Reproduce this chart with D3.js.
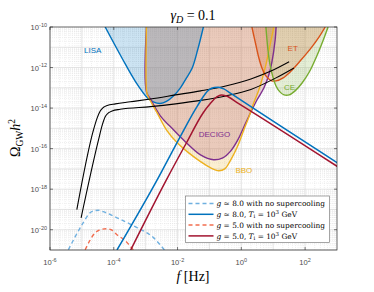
<!DOCTYPE html>
<html>
<head>
<meta charset="utf-8">
<script src="https://cdn.jsdelivr.net/npm/d3@7"></script>
<style>
  body { margin: 0; background: #fff; }
  svg { display: block; }
  .tick-label { font-family: "Liberation Sans", Arial, sans-serif; font-size: 7.6px; fill: #4d4d4d; }
  .det-label { font-family: "Liberation Sans", Arial, sans-serif; font-size: 8px; }
  .legend-text { font-family: "DejaVu Serif", serif; font-size: 7.4px; fill: #000; }
</style>
</head>
<body>
<div id="chart"></div>
<script>
// all values are [log10 f, log10 Omega h^2]
var lisa = [[-4.27,-10],[-3.74,-11.54],[-3.32,-12.69],[-2.94,-13.5],[-2.76,-13.69],[-2.54,-13.77],
  [-2.35,-13.67],[-2.13,-13.4],[-1.91,-13.0],[-1.72,-12.51],[-1.54,-12.02],[-1.37,-11.13],[-1.19,-10]];
var bbo = [[-2.976,-10],[-2.976,-13.1],[-2.945,-13.35],[-2.85,-13.65],[-2.64,-14.24],[-2.35,-15.07],
  [-2.01,-15.71],[-1.65,-16.21],[-1.28,-16.64],[-0.96,-16.95],[-0.71,-17.09],[-0.52,-17.0],[-0.33,-16.55],
  [-0.11,-15.86],[0.08,-15.07],[0.24,-14.43],[0.39,-13.74],[0.55,-13.1],[0.77,-11.87],[0.9,-10.89],[1.02,-10]];
var decigo = [[-2.976,-10],[-2.976,-13.2],[-2.85,-13.55],[-2.54,-14.38],[-2.13,-15.07],[-1.75,-15.67],
  [-1.28,-16.31],[-0.87,-16.55],[-0.58,-16.45],[-0.33,-16.11],[-0.11,-15.57],[0.08,-14.93],[0.3,-14.19],
  [0.49,-13.6],[0.71,-13.0],[0.87,-12.32],[0.96,-11.72],[1.06,-10.64],[1.09,-10]];
var et = [[0.331,-10],[0.457,-10.89],[0.55,-11.53],[0.646,-12.02],[0.77,-12.41],[0.93,-12.64],[1.087,-12.66],
  [1.31,-12.51],[1.56,-12.17],[1.87,-11.63],[2.19,-11.03],[2.44,-10.49],[2.63,-10]];
var ce = [[0.77,-10],[0.835,-11.13],[0.9,-11.87],[0.99,-12.46],[1.087,-12.91],[1.21,-13.2],[1.34,-13.35],
  [1.5,-13.35],[1.685,-13.15],[1.905,-12.76],[2.13,-12.22],[2.38,-11.38],[2.57,-10.64],[2.72,-10]];

var pisUpper = [[-5.159,-19.01],[-4.636,-15.07],[-4.52,-14.48],[-4.425,-14.14],[-4.33,-13.97],[-4.205,-13.87],
  [-3.95,-13.79],[-3.48,-13.69],[-2.85,-13.55],[-2.06,-13.35],[-1.276,-13.15],[-0.49,-12.91],[0.3,-12.56],
  [0.93,-12.17],[1.5,-11.71]];
var pisLower = [[-5.024,-19.41],[-4.479,-15.57],[-4.36,-14.83],[-4.27,-14.43],[-4.17,-14.24],[-4.05,-14.14],
  [-3.8,-14.06],[-2.85,-13.93],[-2.06,-13.79],[-1.276,-13.62],[-0.49,-13.4],[0.3,-13.08],[1.087,-12.51],[1.65,-12.02]];

var g8NoSc = [[-5.424,-20.99],[-4.96,-19.66],[-4.74,-19.16],[-4.614,-19.06],[-4.479,-19.04],[-4.33,-19.11],
  [-3.9,-19.41],[-3.27,-19.9],[-2.756,-20.39],[-2.41,-21]];
var g8Ti = [[-3.9,-21],[-2.64,-17.54],[-1.906,-15.38],[-1.38,-13.9],[-1.02,-13.1],[-0.85,-12.98],[-0.72,-12.97],
  [-0.55,-13.05],[-0.33,-13.28],[3.03,-16.72]];
var g5NoSc = [[-4.898,-20.99],[-4.583,-20.15],[-4.425,-20.0],[-4.24,-19.95],[-4.08,-20.0],[-3.9,-20.25],
  [-3.64,-20.54],[-3.39,-21]];
var g5Ti = [[-3.47,-21],[-2.35,-17.54],[-1.72,-15.71],[-1.2,-14.24],[-0.98,-13.79],[-0.77,-13.45],[-0.63,-13.35],
  [-0.47,-13.4],[-0.12,-13.74],[3.03,-16.9]];

var xTicks = [-6, -4, -2, 0, 2];
var yTicks = [-20, -18, -16, -14, -12, -10];

var W = 374, H = 292;
var margin = {top: 27, right: 37, bottom: 42, left: 50};
var width = W - margin.left - margin.right,
    height = H - margin.top - margin.bottom;

var svg = d3.select("#chart").append("svg").attr("width", W).attr("height", H);
var g = svg.append("g").attr("transform", "translate(" + margin.left + "," + margin.top + ")");

var x = d3.scaleLog().domain([1e-6, 1e3]).range([0, width]);
var y = d3.scaleLog().domain([1e-21, 1e-10]).range([height, 0]);
var p10 = function(v) { return Math.pow(10, v); };

var line = d3.line()
    .x(function(d) { return x(p10(d[0])); })
    .y(function(d) { return y(p10(d[1])); })
    .curve(d3.curveMonotoneX);
var lineC = d3.line()
    .x(function(d) { return x(p10(d[0])); })
    .y(function(d) { return y(p10(d[1])); })
    .curve(d3.curveCatmullRom.alpha(0.5));

g.append("defs").append("clipPath").attr("id", "clip")
  .append("rect").attr("width", width).attr("height", height);

// grid
var grid = g.append("g");
for (var e = -6; e < 3; e++) {
  for (var k = 1; k < 10; k++) {
    var xv = x(k * p10(e));
    grid.append("line").attr("x1", xv).attr("x2", xv).attr("y1", 0).attr("y2", height)
      .attr("stroke", k == 1 ? "#d4d4d4" : "#dedede")
      .attr("stroke-width", k == 1 ? 0.6 : 0.5)
      .attr("stroke-dasharray", k == 1 ? null : "1,1");
  }
}
for (var e2 = -21; e2 < -10; e2++) {
  for (var k2 = 1; k2 < 10; k2++) {
    var yv = y(k2 * p10(e2));
    grid.append("line").attr("y1", yv).attr("y2", yv).attr("x1", 0).attr("x2", width)
      .attr("stroke", k2 == 1 ? "#d4d4d4" : "#dedede")
      .attr("stroke-width", k2 == 1 ? 0.6 : 0.5)
      .attr("stroke-dasharray", k2 == 1 ? null : "1,1");
  }
}

var plot = g.append("g").attr("clip-path", "url(#clip)");

// detector regions (filled up to the top)
function region(data, fill, op) {
  plot.append("path").datum(data).attr("d", lineC(data) + "Z")
    .attr("fill", fill).attr("fill-opacity", op).attr("stroke", "none");
}
region(bbo, "#EDB120", 0.2);
region(decigo, "rgb(190,105,125)", 0.27);
region(lisa, "#0072BD", 0.2);
region(ce, "#77AC30", 0.2);
region(et, "#D95319", 0.2);

function curve(data, color, w, dash, gen) {
  plot.append("path").datum(data).attr("d", (gen || line)(data))
    .attr("fill", "none").attr("stroke", color).attr("stroke-width", w)
    .attr("stroke-dasharray", dash || null);
}
curve(lisa, "#0072BD", 1.4, null, lineC);
curve(decigo, "#7E2F8E", 1.4, null, lineC);
curve(bbo, "#EDB120", 1.4, null, lineC);
curve(et, "#D95319", 1.4, null, lineC);
curve(ce, "#77AC30", 1.4, null, lineC);

curve(pisUpper, "#000", 1.1);
curve(pisLower, "#000", 1.1);

curve(g8NoSc, "#6fb0e0", 1.4, "4,3");
curve(g5NoSc, "#f26d4f", 1.4, "4,3");
curve(g8Ti, "#0072BD", 1.5);
curve(g5Ti, "#A2142F", 1.5);

// detector labels
var labels = [["LISA", -4.66, -11.3, "#0072BD"], ["DECIGO", -0.84, -15.42, "#7E2F8E"],
  ["BBO", 0.08, -17.2, "#EDB120"], ["ET", 1.61, -11.19, "#D95319"], ["CE", 1.51, -13.1, "#77AC30"]];
labels.forEach(function(l) {
  g.append("text").attr("class", "det-label").attr("x", x(p10(l[1]))).attr("y", y(p10(l[2])))
    .attr("text-anchor", "middle").attr("fill", l[3]).text(l[0]);
});

// box and ticks
g.append("rect").attr("width", width).attr("height", height)
  .attr("fill", "none").attr("stroke", "#262626").attr("stroke-width", 0.7);
xTicks.forEach(function(t) {
  var xv = x(p10(t));
  g.append("line").attr("x1", xv).attr("x2", xv).attr("y1", height).attr("y2", height - 3).attr("stroke", "#262626").attr("stroke-width", 0.6);
  g.append("line").attr("x1", xv).attr("x2", xv).attr("y1", 0).attr("y2", 3).attr("stroke", "#262626").attr("stroke-width", 0.6);
  var tx = g.append("text").attr("class", "tick-label").attr("x", xv).attr("y", height + 15)
    .attr("text-anchor", "middle").text("10");
  tx.append("tspan").attr("dy", -3.2).style("font-size", "5.5px").text(t);
});
yTicks.forEach(function(t) {
  var yv = y(p10(t));
  g.append("line").attr("y1", yv).attr("y2", yv).attr("x1", 0).attr("x2", 3).attr("stroke", "#262626").attr("stroke-width", 0.6);
  g.append("line").attr("y1", yv).attr("y2", yv).attr("x1", width).attr("x2", width - 3).attr("stroke", "#262626").attr("stroke-width", 0.6);
  var ty = g.append("text").attr("class", "tick-label").attr("x", -3).attr("y", yv + 3)
    .attr("text-anchor", "end").text("10");
  ty.append("tspan").attr("dy", -3.2).style("font-size", "5.5px").text(t);
});

// legend
var legendItems = [
  {color: "#6fb0e0", dash: "4,3", g: "8.0", rel: "\u2243", ti: false},
  {color: "#0072BD", dash: null, g: "8.0", rel: "\u2243", ti: true},
  {color: "#f26d4f", dash: "4,3", g: "5.0", rel: "=", ti: false},
  {color: "#A2142F", dash: null, g: "5.0", rel: "=", ti: true}
];
var lg = svg.append("g").attr("transform", "translate(185.5,196)");
lg.append("rect").attr("width", 144).attr("height", 46.5).attr("fill", "#fff")
  .attr("stroke", "#7f7f7f").attr("stroke-width", 0.7);
legendItems.forEach(function(d, i) {
  var yy = 7.5 + i * 10.8;
  lg.append("line").attr("x1", 3).attr("x2", 28).attr("y1", yy).attr("y2", yy)
    .attr("stroke", d.color).attr("stroke-width", 1.5).attr("stroke-dasharray", d.dash);
  var t = lg.append("text").attr("class", "legend-text").attr("x", 31).attr("y", yy + 2.6);
  t.append("tspan").style("font-style", "italic").text("g");
  if (d.ti) {
    t.append("tspan").text(" " + d.rel + " 8.0".replace("8.0", d.g) + ", ");
    t.append("tspan").style("font-style", "italic").text("T");
    t.append("tspan").attr("dy", 1.5).style("font-size", "5.5px").text("i");
    t.append("tspan").attr("dy", -1.5).text(" = 10");
    t.append("tspan").attr("dy", -3).style("font-size", "5.5px").text("3");
    t.append("tspan").attr("dy", 3).text(" GeV");
  } else {
    t.append("tspan").text(" " + d.rel + " " + d.g + " with no supercooling");
  }
});

// title and axis labels
var title = svg.append("text").attr("x", 193).attr("y", 20).attr("text-anchor", "middle")
  .style("font-family", "Liberation Serif, serif").style("font-size", "14px");
title.append("tspan").style("font-style", "italic").text("\u03b3");
title.append("tspan").style("font-style", "italic").style("font-size", "10px").attr("dy", 2.5).text("D");
title.append("tspan").attr("dy", -2.5).text(" = 0.1");

var xl = svg.append("text").attr("x", 193).attr("y", 281).attr("text-anchor", "middle")
  .style("font-family", "Liberation Serif, serif").style("font-size", "14px");
xl.append("tspan").style("font-style", "italic").text("f");
xl.append("tspan").text(" [Hz]");

var yl = svg.append("text").attr("transform", "translate(20,138) rotate(-90)").attr("text-anchor", "middle")
  .style("font-family", "Liberation Serif, serif").style("font-size", "14px");
yl.append("tspan").text("\u03a9");
yl.append("tspan").attr("dy", 2.5).style("font-size", "9.5px").text("GW");
yl.append("tspan").attr("dy", -2.5).style("font-style", "italic").text("h");
yl.append("tspan").attr("dy", -5).style("font-size", "9.5px").text("2");
</script>
</body>
</html>
